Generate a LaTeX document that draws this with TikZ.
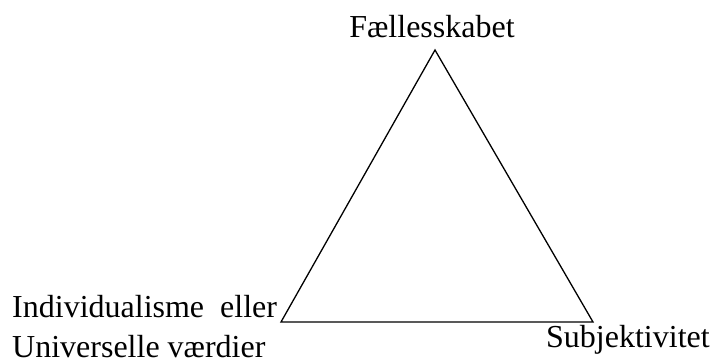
\documentclass[tikz,border=0pt]{standalone}
\usepackage{fontspec}
\setmainfont{Liberation Serif}
\begin{document}
\begin{tikzpicture}[x=1pt,y=-1pt,
  lbl/.style={font=\fontsize{32}{38}\selectfont, inner sep=0pt},
  edge/.style={line width=1.3pt, line join=miter}]
\useasboundingbox (0,0) rectangle (710,358);
\coordinate (top) at (435,50);
\coordinate (bl) at (281,322);
\coordinate (br) at (593,322);
\draw[edge] (top) -- (bl) -- (br) -- cycle;
\node[lbl, anchor=base] (f) at (432,38) {Fællesskabet};
\node[lbl, anchor=base west] (i1) at (12,318) {Individualisme\ \ eller};
\node[lbl, anchor=base west] (i2) at (12,357) {Universelle værdier};
\node[lbl, anchor=base west] (s) at (546,347) {Subjektivitet};
\end{tikzpicture}
\end{document}
